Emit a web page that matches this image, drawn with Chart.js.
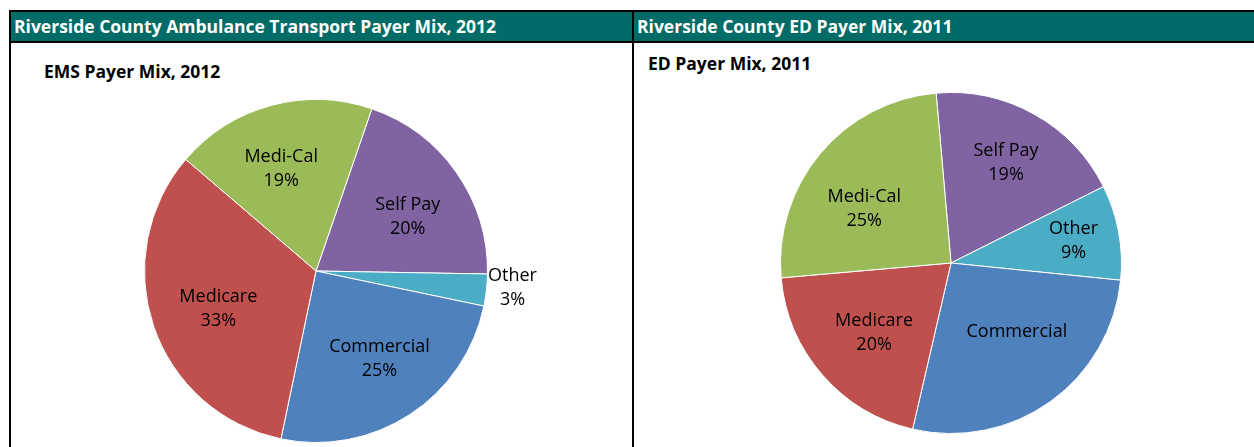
<!DOCTYPE html>
<html>
<head>
<meta charset="utf-8">
<script src="https://cdn.jsdelivr.net/npm/chart.js@4/dist/chart.umd.min.js"></script>
<style>
  html, body { margin: 0; padding: 0; background: #fff; }
  body { width: 1254px; height: 447px; position: relative; overflow: hidden; font-family: "Open Sans", sans-serif; }
  .frame { position: absolute; left: 9px; top: 10px; width: 1245px; height: 437px; border-top: 2px solid #000; border-left: 2px solid #000; box-sizing: border-box; }
  .hdr { position: absolute; top: 12px; height: 29px; background: #006B67; color: #fff; font-weight: bold; font-size: 17.5px; line-height: 29px; padding-left: 3px; box-sizing: border-box; white-space: nowrap; overflow: hidden; }
  .hline { position: absolute; left: 9px; top: 41px; width: 1245px; height: 2px; background: #000; }
  .vline { position: absolute; left: 632px; top: 10px; width: 2px; height: 437px; background: #000; }
  .sub { position: absolute; font-weight: bold; font-size: 17.5px; line-height: 24px; color: #000; white-space: nowrap; }
  canvas { position: absolute; }
</style>
</head>
<body>
<div class="frame"></div>
<div class="hdr" style="left:11px; width:621px;">Riverside County Ambulance Transport Payer Mix, 2012</div>
<div class="hdr" style="left:634px; width:620px;">Riverside County ED Payer Mix, 2011</div>
<div class="hline"></div>
<div class="vline"></div>
<div class="sub" style="left:44px; top:59px;">EMS Payer Mix, 2012</div>
<div class="sub" style="left:648px; top:51px;">ED Payer Mix, 2011</div>
<canvas id="c1" width="621" height="404" style="left:11px; top:43px;"></canvas>
<canvas id="c2" width="620" height="404" style="left:634px; top:43px;"></canvas>
<script>
const categories = ['Self Pay', 'Other', 'Commercial', 'Medicare', 'Medi-Cal'];
const emsValues = [20, 3, 25, 33, 19];
const edValues = [19, 9, 27, 20, 25];
const sliceColors = ['#8064A2', '#4BACC6', '#4F81BD', '#C0504D', '#9BBB59'];

// label placement style: [radius fraction, angle shift (deg)]
const emsLabelPlace = [[0.62, 4.6], [1.15, -1.4], [0.63, -2.8], [0.61, -2.2], [0.63, -3.6]];
const edLabelPlace = [[0.67, -0.4], [0.73, 0.3], [0.56, -8], [0.61, -1.3], [0.60, -8]];
const edHidePct = [false, false, true, false, false];
const emsHidePct = [false, false, false, false, false];

const labelPlugin = {
  id: 'sliceLabels',
  afterDatasetsDraw(chart, args, opts) {
    const ctx = chart.ctx;
    const meta = chart.getDatasetMeta(0);
    const data = chart.data.datasets[0].data;
    ctx.save();
    ctx.font = '18px "Open Sans", sans-serif';
    ctx.fillStyle = '#000';
    ctx.textAlign = 'center';
    ctx.textBaseline = 'middle';
    meta.data.forEach((arc, i) => {
      const p = arc.getProps(['x', 'y', 'startAngle', 'endAngle', 'outerRadius'], true);
      const [frac, shift] = opts.place[i];
      const mid = (p.startAngle + p.endAngle) / 2 + shift * Math.PI / 180;
      const r = p.outerRadius * frac;
      const x = p.x + Math.cos(mid) * r;
      const y = p.y + Math.sin(mid) * r;
      const lines = opts.hidePct[i] ? [chart.data.labels[i]] : [chart.data.labels[i], data[i] + '%'];
      const lh = 24;
      lines.forEach((t, k) => {
        ctx.fillText(t, x, y + (k - (lines.length - 1) / 2) * lh);
      });
    });
    ctx.restore();
  }
};

function makePie(id, values, rotation, padding, place, hidePct) {
  return new Chart(document.getElementById(id), {
    type: 'pie',
    data: {
      labels: categories,
      datasets: [{
        data: values,
        backgroundColor: sliceColors,
        borderColor: '#ffffff',
        borderWidth: 1
      }]
    },
    options: {
      responsive: false,
      animation: false,
      rotation: rotation,
      layout: { padding: padding },
      plugins: {
        legend: { display: false },
        tooltip: { enabled: false },
        sliceLabels: { place: place, hidePct: hidePct }
      }
    },
    plugins: [labelPlugin]
  });
}

makePie('c1', emsValues, 19, { left: 133, right: 144, top: 56, bottom: 4 }, emsLabelPlace, emsHidePct);
makePie('c2', edValues, -5, { left: 146, right: 132, top: 49, bottom: 13 }, edLabelPlace, edHidePct);
</script>
</body>
</html>
